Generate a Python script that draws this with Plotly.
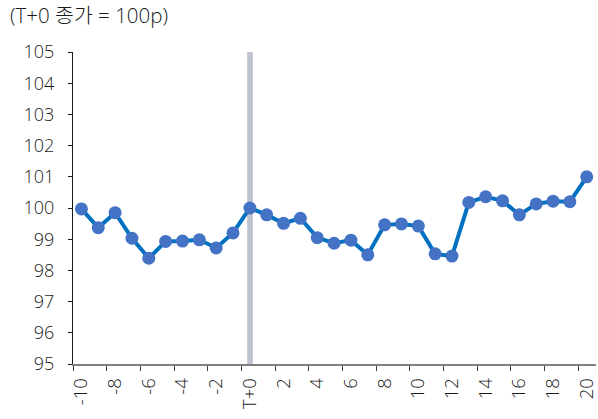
import plotly.graph_objects as go

# Days relative to the reference day (T+0) and indexed closing price (T+0 = 100)
days = list(range(-10, 21))
index_values = [
    99.97, 99.37, 99.85, 99.03, 98.39, 98.93, 98.94, 98.98, 98.72, 99.20,
    100.00, 99.78, 99.51, 99.67, 99.05, 98.87, 98.97, 98.50, 99.46, 99.49,
    99.42, 98.53, 98.46, 100.18, 100.36, 100.23, 99.78, 100.13, 100.22, 100.20,
    101.00,
]

# Axis labels: every other day, with day 0 shown as T+0
label_days = list(range(-10, 21, 2))
label_text = ["T+0" if d == 0 else str(d) for d in label_days]
y_ticks = list(range(95, 106))
highlight_day = 0

FONT = "Open Sans, Noto Sans CJK KR, sans-serif"
TEXT_COLOR = "#1a1a1a"

fig = go.Figure()

fig.add_trace(go.Scatter(
    x=days,
    y=index_values,
    mode="lines+markers",
    line=dict(color="#0070C0", width=4),
    marker=dict(color="#4472C4", size=13),
    hoverinfo="x+y",
    showlegend=False,
))

# Highlight band at the reference day
fig.add_shape(
    type="rect", xref="x", yref="y",
    x0=highlight_day - 0.16, x1=highlight_day + 0.18, y0=95, y1=105,
    fillcolor="#C0C3D0", line=dict(width=0), layer="below",
)

fig.update_layout(
    width=598, height=419,
    margin=dict(l=73, r=0, t=52, b=55),
    paper_bgcolor="white", plot_bgcolor="white",
    font=dict(family=FONT, size=18, color=TEXT_COLOR, weight=300),
    title=dict(
        text="(T+0 종가 = 100p)",
        xref="container", yref="container",
        x=10 / 598, y=1 - 16 / 419, xanchor="left", yanchor="middle",
        font=dict(family=FONT, size=20.5, color=TEXT_COLOR, weight=300),
    ),
)

fig.update_xaxes(
    range=[-10.5, 20.55],
    tickmode="array", tickvals=label_days, ticktext=label_text,
    tickangle=-90, ticks="",
    ticklabeloverflow="allow",
    ticklabelstandoff=5,
    showgrid=False, zeroline=False,
    showline=True, linecolor="#7F7F7F", linewidth=1.5,
    minor=dict(
        tickmode="array",
        tickvals=[d - 0.5 for d in label_days],
        ticks="outside", ticklen=5, tickcolor="#404040", tickwidth=1,
        showgrid=False,
    ),
    tickfont=dict(family=FONT, size=18.5, color=TEXT_COLOR, weight=300),
)

fig.update_yaxes(
    range=[95, 105],
    tickmode="array", tickvals=y_ticks,
    ticks="outside", ticklen=4, tickcolor=TEXT_COLOR,
    showgrid=False, zeroline=False,
    showline=True, linecolor=TEXT_COLOR, linewidth=1,
    ticklabelstandoff=10,
    tickfont=dict(family=FONT, size=18, color=TEXT_COLOR, weight=300),
)

fig.write_html("out.html")
